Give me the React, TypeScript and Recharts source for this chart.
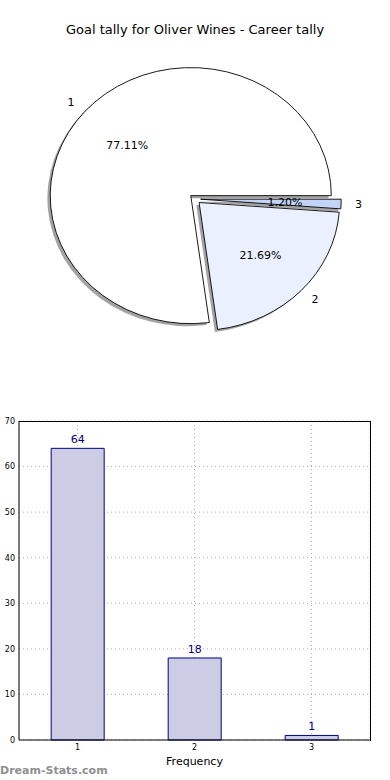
import React from "react";
import {
  PieChart,
  Pie,
  Cell,
  BarChart,
  Bar,
  XAxis,
  YAxis,
  CartesianGrid,
  LabelList,
} from "recharts";

// goal tally per match: how many games with 1, 2, 3 goals
const goals = ["1", "2", "3"];
const tallies = [64, 18, 1];
const sliceColors = ["#ffffff", "#ebf0fe", "#c3d5f7"];
const yTicks = [0, 10, 20, 30, 40, 50, 60, 70];

const pieData = goals.map((g, i) => ({ name: g, value: tallies[i] }));
const barData = goals.map((g, i) => ({ name: g, value: tallies[i] }));

const FONT = "'DejaVu Sans', sans-serif";
const RAD = Math.PI / 180;

// pie geometry (matplotlib draws it slightly elliptic, so the svg is stretched)
const CX = 195;
const CY = 199;
const R = 134.5;
const SX = 1.045;
const SY = 0.952;
const EXPLODE = 0.04;
const SHADOW = 2.7;

const total = tallies.reduce((a, b) => a + b, 0);
const midAngles = tallies.map(
  (v, i) => ((tallies.slice(0, i).reduce((a, b) => a + b, 0) + v / 2) / total) * 360
);

const unstretch = (x: number, y: number) =>
  `translate(${x} ${y}) scale(${1 / SX} ${1 / SY}) translate(${-x} ${-y})`;

function sliceCenter(i: number) {
  const a = midAngles[i] * RAD;
  return {
    x: CX + EXPLODE * R * Math.cos(a),
    y: CY - EXPLODE * R * Math.sin(a),
  };
}

export default function App() {
  return (
    <div
      style={{
        position: "absolute",
        left: 0,
        top: 0,
        width: 390,
        height: 780,
        background: "#fff",
        fontFamily: FONT,
      }}
    >
      <div
        style={{
          position: "absolute",
          left: 0,
          top: 0,
          width: 390,
          height: 390,
          transform: `scale(${SX}, ${SY})`,
          transformOrigin: `${CX}px ${CY}px`,
        }}
      >
        <PieChart width={390} height={390} margin={{ top: 0, right: 0, bottom: 0, left: 0 }}>
          {goals.map((g, i) => {
            const c = sliceCenter(i);
            return (
              <Pie
                key={"shadow-" + g}
                data={pieData}
                dataKey="value"
                cx={c.x - SHADOW}
                cy={c.y + SHADOW}
                outerRadius={R}
                startAngle={0}
                endAngle={360}
                labelLine={false}
                label={false}
                isAnimationActive={false}
              >
                {pieData.map((d, j) => (
                  <Cell
                    key={d.name}
                    fill={j === i ? "#a3a3a3" : "none"}
                    stroke="none"
                  />
                ))}
              </Pie>
            );
          })}
          {goals.map((g, i) => {
            const c = sliceCenter(i);
            const a = midAngles[i] * RAD;
            const px = c.x + 0.6 * R * Math.cos(a);
            const py = c.y - 0.6 * R * Math.sin(a);
            const lx = c.x + 1.1 * R * Math.cos(a);
            const ly = c.y - 1.1 * R * Math.sin(a);
            return (
              <Pie
                key={"slice-" + g}
                data={pieData}
                dataKey="value"
                cx={c.x}
                cy={c.y}
                outerRadius={R}
                startAngle={0}
                endAngle={360}
                labelLine={false}
                isAnimationActive={false}
                label={(p: any) =>
                  p.index === i ? (
                    <g>
                      <text
                        x={px}
                        y={py}
                        textAnchor="middle"
                        dominantBaseline="central"
                        fontSize={11}
                        fontFamily={FONT}
                        fill="#000"
                        transform={unstretch(px, py)}
                      >
                        {((tallies[i] / total) * 100).toFixed(2) + "%"}
                      </text>
                      <text
                        x={lx}
                        y={ly}
                        textAnchor={Math.cos(a) > 0 ? "start" : "end"}
                        dominantBaseline="central"
                        fontSize={11}
                        fontFamily={FONT}
                        fill="#000"
                        transform={unstretch(lx, ly)}
                      >
                        {g}
                      </text>
                    </g>
                  ) : null
                }
              >
                {pieData.map((d, j) => (
                  <Cell
                    key={d.name}
                    fill={j === i ? sliceColors[i] : "none"}
                    stroke={j === i ? "#000" : "none"}
                    strokeWidth={0.9}
                  />
                ))}
              </Pie>
            );
          })}
        </PieChart>
      </div>

      <div
        style={{
          position: "absolute",
          left: 0,
          top: 22,
          width: 390,
          textAlign: "center",
          fontSize: 13,
          lineHeight: "16px",
          color: "#000",
        }}
      >
        Goal tally for Oliver Wines - Career tally
      </div>

      <div style={{ position: "absolute", left: 0, top: 400 }}>
        <BarChart
          width={390}
          height={380}
          data={barData}
          margin={{ top: 21, right: 20, bottom: 15, left: 0 }}
          barCategoryGap="27.5%"
        >
          <XAxis
            dataKey="name"
            height={25}
            tickLine={false}
            tickSize={2}
            tickMargin={2}
            axisLine={{ stroke: "#000" }}
            tick={{ fontSize: 8, fill: "#000", fontFamily: FONT }}
            label={{
              value: "Frequency",
              position: "insideBottom",
              offset: 0,
              fontSize: 11,
              fill: "#000",
              fontFamily: FONT,
            }}
          />
          <YAxis
            domain={[0, 70]}
            ticks={yTicks}
            width={19}
            tickLine={false}
            tickSize={2}
            tickMargin={2}
            axisLine={{ stroke: "#000" }}
            tick={{ fontSize: 8, fill: "#000", fontFamily: FONT }}
          />
          <Bar
            dataKey="value"
            fill="#ccccE5"
            stroke="#000080"
            strokeWidth={1}
            isAnimationActive={false}
          >
            <LabelList
              dataKey="value"
              position="top"
              fill="#000080"
              fontSize={11}
              fontFamily={FONT}
            />
          </Bar>
          <CartesianGrid stroke="#b0b0b0" strokeDasharray="1 3" />
        </BarChart>
        {/* top and right spines of the plot frame */}
        <div
          style={{
            position: "absolute",
            left: 19,
            top: 20.5,
            width: 350.5,
            height: 319,
            borderTop: "1px solid #000",
            borderRight: "1px solid #000",
            pointerEvents: "none",
          }}
        />
      </div>

      <div
        style={{
          position: "absolute",
          left: 0,
          top: 763,
          fontSize: 11,
          lineHeight: "16px",
          color: "#8f8f8f",
          fontWeight: "bold",
        }}
      >
        Dream-Stats.com
      </div>
    </div>
  );
}
